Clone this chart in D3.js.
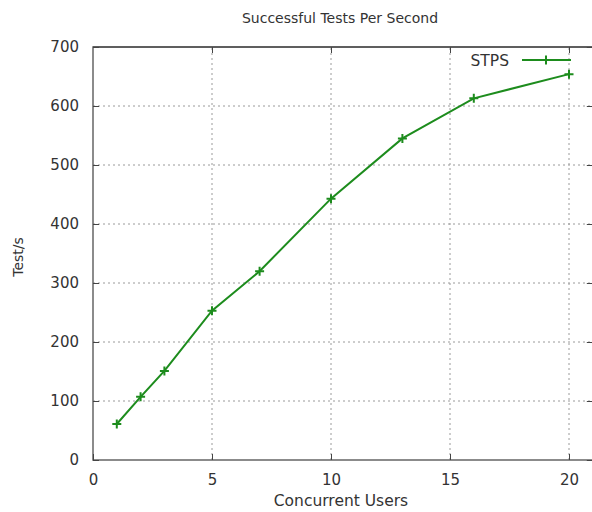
<!DOCTYPE html>
<html><head><meta charset="utf-8">
<script src="https://cdn.jsdelivr.net/npm/d3@7"></script>
<style>body{margin:0;background:#fff}svg{display:block}</style>
</head><body>
<script>
const users = [1, 2, 3, 5, 7, 10, 13, 16, 20];
const stps = [61, 107, 151, 253, 320, 443, 545, 613, 654];
const xTicks = [0, 5, 10, 15, 20];
const yTicks = [0, 100, 200, 300, 400, 500, 600, 700];
const seriesName = "STPS";

const W = 592, H = 512;
const m = {left: 93, right: -1, top: 47, bottom: 52};
const svg = d3.select("body").append("svg").attr("width", W).attr("height", H);
const x = d3.scaleLinear().domain([0, 21]).range([m.left, m.left + 23.8 * 21]);
const y = d3.scaleLinear().domain([0, 700]).range([H - m.bottom, m.top]);
const x0 = x(0), x1 = x(21), y0 = y(0), y1 = y(700);
const font = "DejaVu Sans, sans-serif";
const gridC = "#9a9a9a", axC = "#666";

// grid
svg.append("g").selectAll("line").data(yTicks.filter(d => d > 0 && d < 700)).join("line")
  .attr("x1", x0).attr("x2", x1).attr("y1", d => y(d)).attr("y2", d => y(d))
  .attr("stroke", gridC).attr("stroke-width", 1).attr("stroke-dasharray", "2,3");
svg.append("g").selectAll("line").data(xTicks.filter(d => d > 0)).join("line")
  .attr("x1", d => x(d)).attr("x2", d => x(d)).attr("y1", y0).attr("y2", y1)
  .attr("stroke", gridC).attr("stroke-width", 1).attr("stroke-dasharray", "2,3");

// border
svg.append("path").attr("d", `M${x1},${y1}H${x0}V${y0}H${x1}`)
  .attr("fill", "none").attr("stroke", axC).attr("stroke-width", 1.5);
svg.append("line").attr("x1", x0).attr("x2", x1).attr("y1", y1).attr("y2", y1)
  .attr("stroke", "#333").attr("stroke-width", 1);

// axes with inward ticks
svg.append("g").attr("transform", `translate(0,${y0})`)
  .call(d3.axisBottom(x).tickValues(xTicks).tickSize(-6).tickPadding(14));
svg.append("g").attr("transform", `translate(${x0},0)`)
  .call(d3.axisLeft(y).tickValues(yTicks).tickSize(-6).tickPadding(14));
svg.append("g").attr("transform", `translate(0,${y1})`)
  .call(d3.axisTop(x).tickValues(xTicks.filter(d => d > 0)).tickSize(-6).tickFormat(""));
svg.append("g").attr("transform", `translate(${x1},0)`)
  .call(d3.axisRight(y).tickValues(yTicks).tickSize(-6).tickFormat(""));
svg.selectAll(".domain").remove();
svg.selectAll(".tick line").attr("stroke", "#444");
svg.selectAll(".tick text").attr("font-family", font).attr("font-size", 15).attr("fill", "#333");

// title and labels
svg.append("text").attr("x", 340).attr("y", 23).attr("text-anchor", "middle")
  .attr("font-family", font).attr("font-size", 14).attr("fill", "#333").text("Successful Tests Per Second");
svg.append("text").attr("x", 341).attr("y", 506).attr("text-anchor", "middle")
  .attr("font-family", font).attr("font-size", 15.5).attr("fill", "#333").text("Concurrent Users");
svg.append("text").attr("transform", "translate(23,257) rotate(-90)").attr("text-anchor", "middle")
  .attr("font-family", font).attr("font-size", 14).attr("fill", "#333").text("Test/s");

// series
const green = "#1d8c1d";
const pts = users.map((u, i) => [u, stps[i]]);
svg.append("path").datum(pts)
  .attr("d", d3.line().x(d => x(d[0])).y(d => y(d[1])))
  .attr("fill", "none").attr("stroke", green).attr("stroke-width", 2);
const plus = (cx, cy) => `M${cx - 4.5},${cy}H${cx + 4.5}M${cx},${cy - 4.5}V${cy + 4.5}`;
svg.append("g").selectAll("path").data(pts).join("path")
  .attr("d", d => plus(x(d[0]), y(d[1])))
  .attr("stroke", green).attr("stroke-width", 2);

// legend
svg.append("text").attr("x", 509).attr("y", 66).attr("text-anchor", "end")
  .attr("font-family", font).attr("font-size", 15.5).attr("fill", "#333").text(seriesName);
svg.append("line").attr("x1", 522).attr("x2", 571).attr("y1", 60).attr("y2", 60)
  .attr("stroke", green).attr("stroke-width", 2);
svg.append("path").attr("d", plus(546, 60)).attr("stroke", green).attr("stroke-width", 2);
</script>
</body></html>
